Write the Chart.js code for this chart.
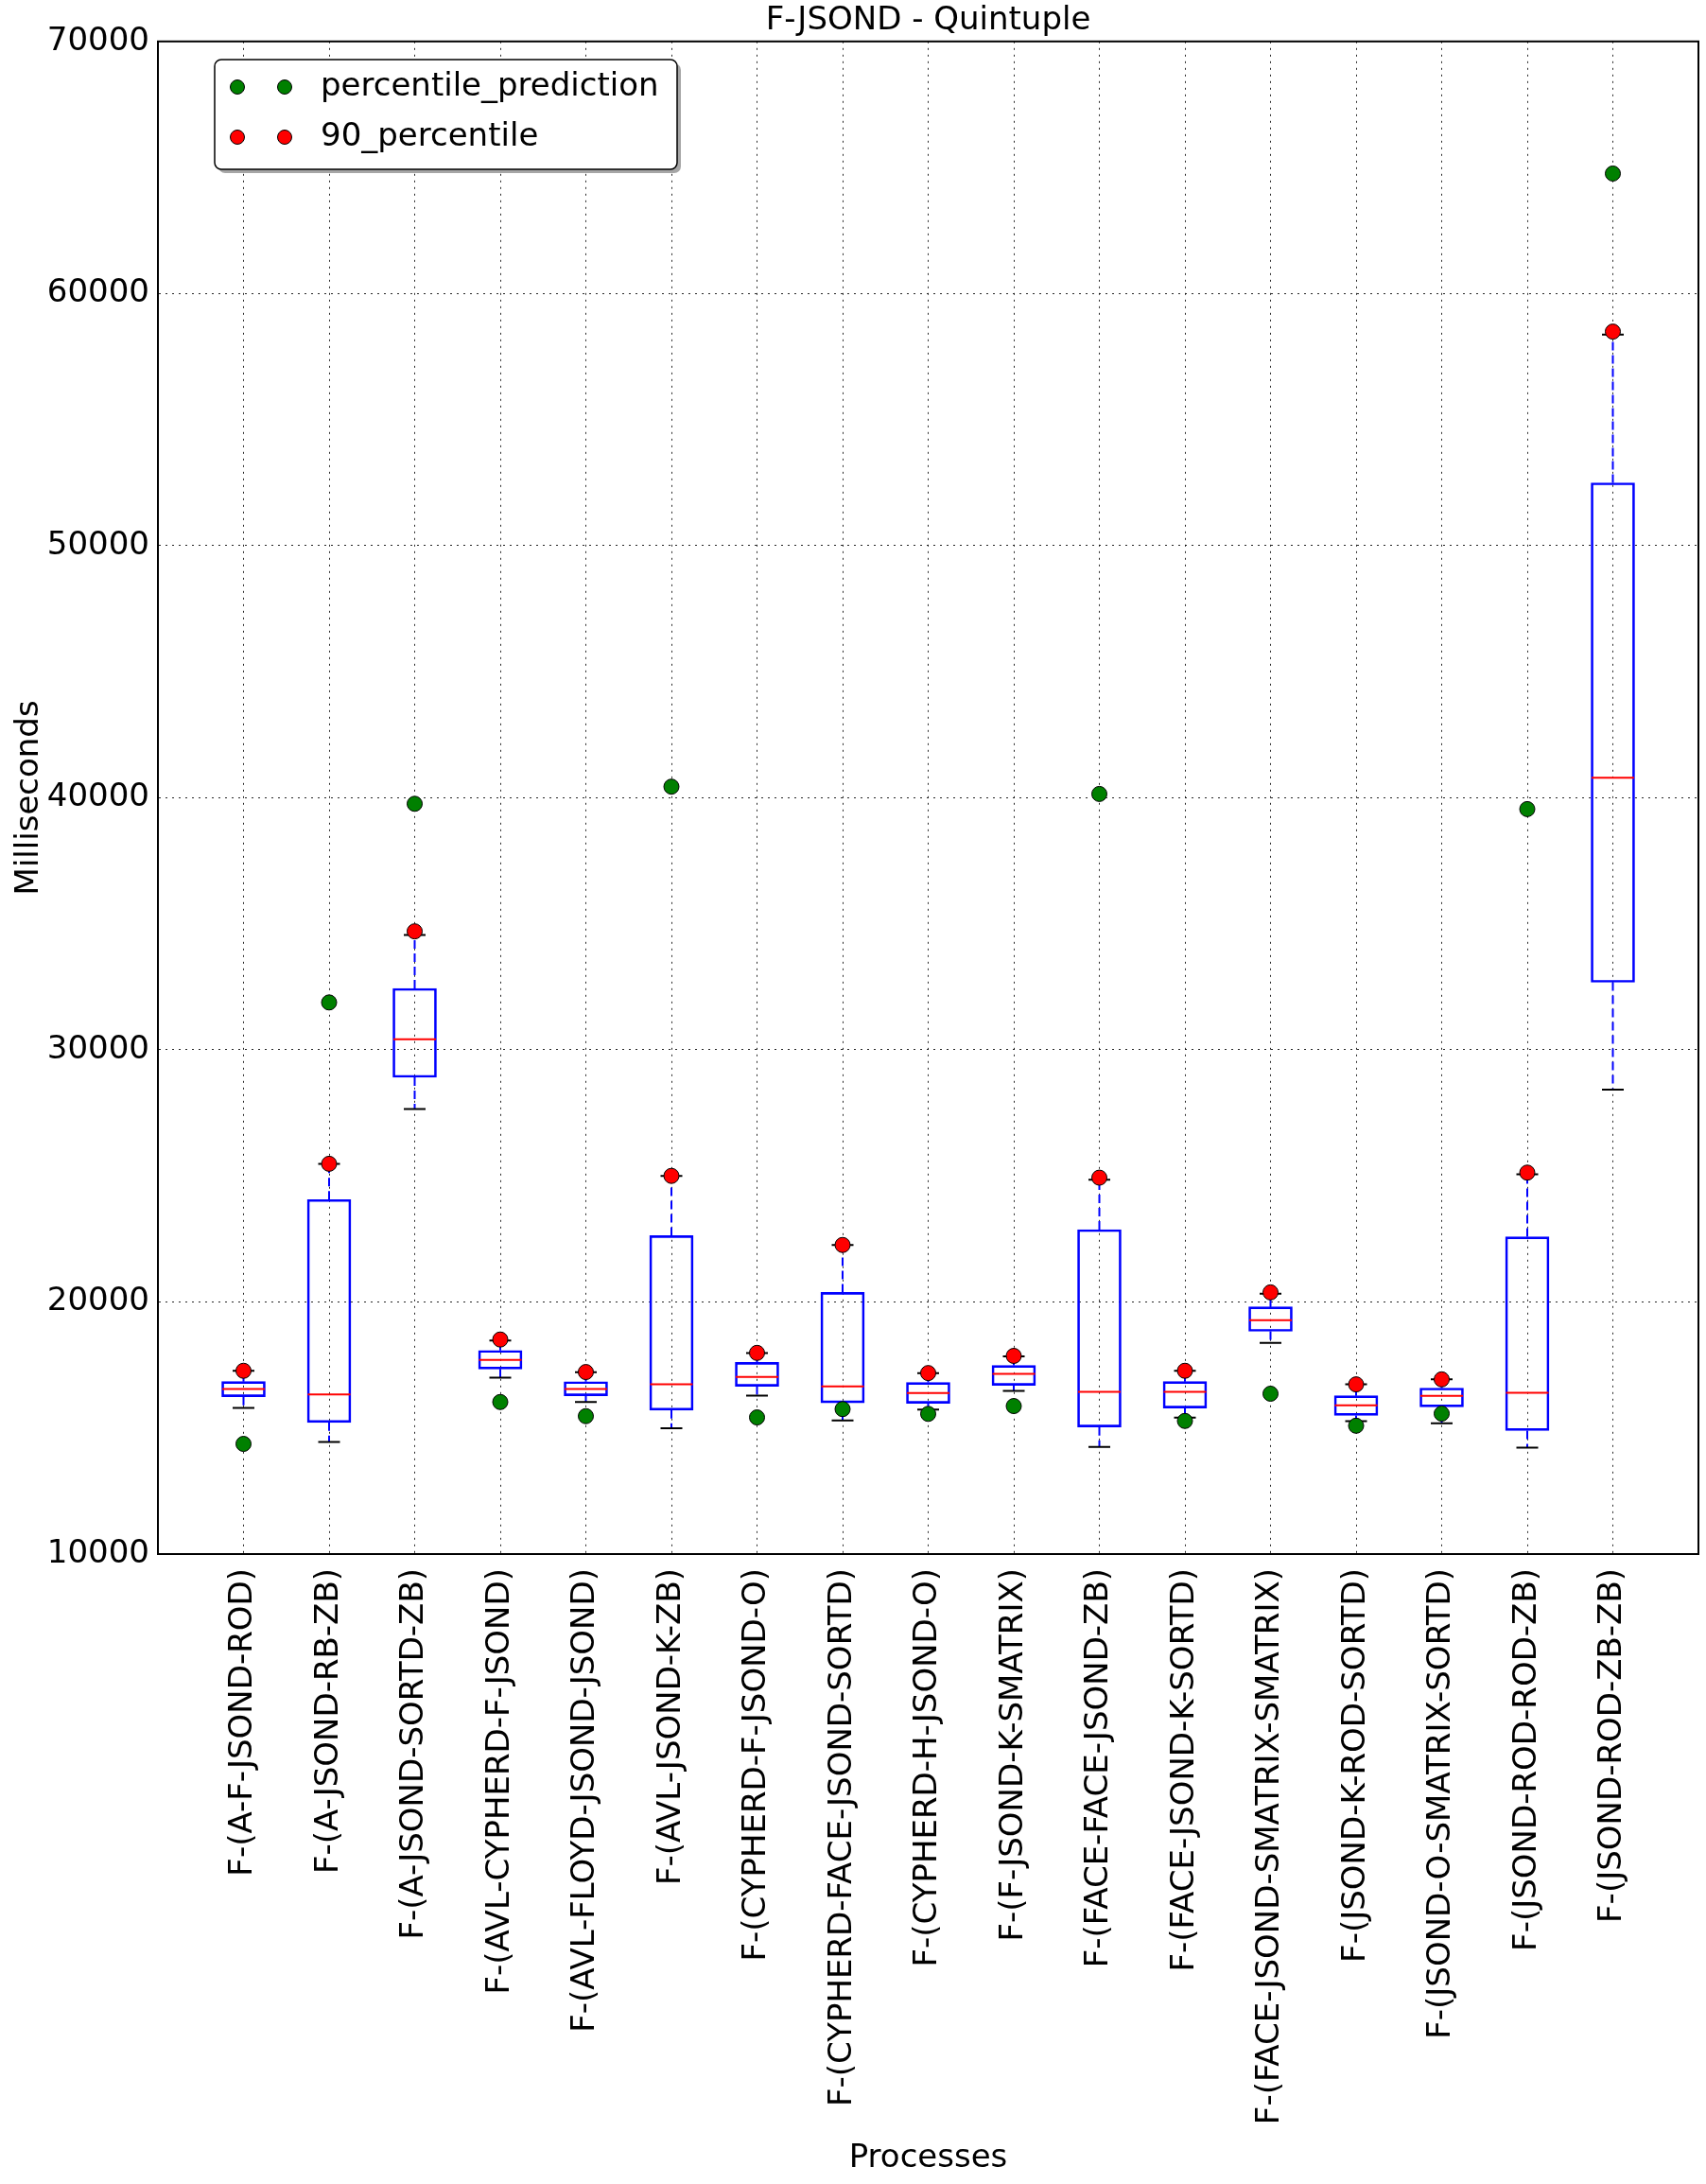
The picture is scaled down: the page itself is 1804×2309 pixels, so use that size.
<!DOCTYPE html>
<html>
<head>
<meta charset="utf-8">
<script src="https://cdn.jsdelivr.net/npm/chart.js@4.4.0/dist/chart.umd.min.js"></script>
<style>
  body { margin: 0; background: #fff; }
  canvas { display: block; }
</style>
</head>
<body>
<canvas id="boxChart" width="1804" height="2309"></canvas>
<script>
const processes = [
    'F-(A-F-JSOND-ROD)',
    'F-(A-JSOND-RB-ZB)',
    'F-(A-JSOND-SORTD-ZB)',
    'F-(AVL-CYPHERD-F-JSOND)',
    'F-(AVL-FLOYD-JSOND-JSOND)',
    'F-(AVL-JSOND-K-ZB)',
    'F-(CYPHERD-F-JSOND-O)',
    'F-(CYPHERD-FACE-JSOND-SORTD)',
    'F-(CYPHERD-H-JSOND-O)',
    'F-(F-JSOND-K-SMATRIX)',
    'F-(FACE-FACE-JSOND-ZB)',
    'F-(FACE-JSOND-K-SORTD)',
    'F-(FACE-JSOND-SMATRIX-SMATRIX)',
    'F-(JSOND-K-ROD-SORTD)',
    'F-(JSOND-O-SMATRIX-SORTD)',
    'F-(JSOND-ROD-ROD-ZB)',
    'F-(JSOND-ROD-ZB-ZB)'
];

const whiskerLow  = [15800, 14450, 27650, 17000, 16030, 14990, 16280, 15300, 15730, 16470, 14250, 15410, 18380, 15270, 15190, 14220, 28420];
const q1          = [16240, 15220, 28910, 17340, 16280, 15710, 16655, 16000, 15980, 16690, 15040, 15790, 18835, 15500, 15837, 14900, 32680];
const median      = [16550, 16330, 30420, 17700, 16550, 16730, 17030, 16654, 16390, 17143, 16430, 16430, 19275, 15904, 16278, 16400, 40790];
const q3          = [16840, 24060, 32435, 18077, 16837, 22628, 17600, 20376, 16805, 17481, 22870, 16842, 19805, 16278, 16586, 22584, 52490];
const whiskerHigh = [17270, 25480, 34560, 18470, 17215, 25000, 17975, 22256, 17180, 17840, 24850, 17268, 20330, 16734, 16934, 25060, 58370];

const percentilePrediction = [14370, 31880, 39760, 16030, 15470, 40440, 15420, 15750, 15560, 15870, 40150, 15280, 16360, 15090, 15570, 39550, 64760];
const percentile90         = [17270, 25480, 34700, 18510, 17220, 25000, 17980, 22260, 17180, 17860, 24930, 17270, 20380, 16730, 16930, 25130, 58490];

const yTicks = [10000, 20000, 30000, 40000, 50000, 60000, 70000];

const FONT = "'DejaVu Sans', sans-serif";
Chart.defaults.color = '#000';
Chart.defaults.font.family = FONT;

function pts(values){
    return values.map((v, i) => ({x: i + 1, y: v}));
}

// whisker segments, separated by gaps
const whiskerPts = [];
processes.forEach((p, i) => {
    whiskerPts.push({x: i + 1, y: q3[i]}, {x: i + 1, y: whiskerHigh[i]}, {x: i + 1, y: null});
    whiskerPts.push({x: i + 1, y: q1[i]}, {x: i + 1, y: whiskerLow[i]}, {x: i + 1, y: null});
});

const capPts = pts(whiskerHigh).concat(pts(whiskerLow));

const framePlugin = {
    id: 'frame',
    afterDatasetsDraw(chart){
        const {ctx, chartArea: a} = chart;
        ctx.save();
        ctx.strokeStyle = '#000';
        ctx.lineWidth = 2;
        ctx.strokeRect(a.left, a.top, a.right - a.left, a.bottom - a.top);
        ctx.restore();
    }
};

const legendPlugin = {
    id: 'boxLegend',
    afterDatasetsDraw(chart){
        const ctx = chart.ctx;
        const items = [chart.data.datasets[0], chart.data.datasets[1]];
        const bx = 227, by = 63, bw = 489, bh = 116;
        ctx.save();
        ctx.fillStyle = 'rgba(0,0,0,0.35)';
        ctx.beginPath();
        ctx.roundRect(bx + 4, by + 4, bw, bh, 7);
        ctx.fill();
        ctx.fillStyle = '#fff';
        ctx.strokeStyle = '#000';
        ctx.lineWidth = 1.5;
        ctx.beginPath();
        ctx.roundRect(bx, by, bw, bh, 7);
        ctx.fill();
        ctx.stroke();
        items.forEach((ds, k) => {
            const y = 92 + k * 53;
            [251, 301].forEach(x => {
                ctx.beginPath();
                ctx.arc(x, y, 7.5, 0, Math.PI * 2);
                ctx.fillStyle = ds.backgroundColor;
                ctx.fill();
                ctx.lineWidth = 1;
                ctx.strokeStyle = '#000';
                ctx.stroke();
            });
            ctx.fillStyle = '#000';
            ctx.font = '34px ' + FONT;
            ctx.textBaseline = 'middle';
            ctx.textAlign = 'left';
            ctx.fillText(ds.label, 339, y);
        });
        ctx.restore();
    }
};

new Chart(document.getElementById('boxChart').getContext('2d'), {
    type: 'bar',
    data: {
        datasets: [
            {
                type: 'scatter',
                label: 'percentile_prediction',
                data: pts(percentilePrediction),
                backgroundColor: '#008000',
                borderColor: '#000',
                borderWidth: 1,
                pointRadius: 8
            },
            {
                type: 'scatter',
                label: '90_percentile',
                data: pts(percentile90),
                backgroundColor: '#ff0000',
                borderColor: '#000',
                borderWidth: 1,
                pointRadius: 8
            },
            {
                type: 'scatter',
                label: 'medians',
                data: pts(median),
                pointStyle: 'line',
                pointRadius: 22.5,
                borderColor: '#ff0000',
                borderWidth: 2
            },
            {
                type: 'scatter',
                label: 'caps',
                data: capPts,
                pointStyle: 'line',
                pointRadius: 11.5,
                borderColor: '#000',
                borderWidth: 2
            },
            {
                type: 'line',
                label: 'whiskers',
                data: whiskerPts,
                borderColor: '#0000ff',
                borderWidth: 2,
                borderDash: [9, 5],
                pointRadius: 0,
                spanGaps: false,
                fill: false
            },
            {
                type: 'bar',
                label: 'boxes',
                data: q1.map((v, i) => ({x: i + 1, y: [v, q3[i]]})),
                backgroundColor: 'rgba(0,0,0,0)',
                borderColor: '#0000ff',
                borderWidth: 2,
                borderSkipped: false,
                barThickness: 46
            }
        ]
    },
    options: {
        responsive: false,
        devicePixelRatio: 1,
        animation: false,
        events: [],
        layout: {autoPadding: false, padding: {left: 0, right: 8, top: 0, bottom: 0}},
        plugins: {
            legend: {display: false},
            tooltip: {enabled: false},
            title: {
                display: true,
                text: 'F-JSOND - Quintuple',
                fullSize: false,
                font: {size: 34, weight: 'normal'},
                padding: {top: 2, bottom: 1}
            }
        },
        scales: {
            x: {
                type: 'linear',
                min: 0,
                max: 18,
                offset: false,
                grid: {offset: false, color: 'rgba(0,0,0,0.85)', lineWidth: 1, drawTicks: false},
                border: {color: '#000', width: 2, dash: [2, 5]},
                ticks: {
                    stepSize: 1,
                    autoSkip: false,
                    minRotation: 90,
                    maxRotation: 90,
                    padding: 15,
                    font: {size: 34},
                    callback: v => processes[v - 1] || ''
                },
                title: {
                    display: true,
                    text: 'Processes',
                    font: {size: 34},
                    padding: {top: 0, bottom: 6}
                },
                afterFit(scale){
                    scale.height = 666;
                    scale.paddingLeft = 0;
                    scale.paddingRight = 0;
                }
            },
            y: {
                min: yTicks[0],
                max: yTicks[yTicks.length - 1],
                grid: {color: 'rgba(0,0,0,0.85)', lineWidth: 1, drawTicks: false},
                border: {color: '#000', width: 2, dash: [2, 5]},
                ticks: {
                    stepSize: 10000,
                    padding: 9,
                    font: {size: 34},
                    callback: v => String(v)
                },
                title: {
                    display: true,
                    text: 'Milliseconds',
                    font: {size: 34},
                    padding: {top: 11, bottom: 0}
                },
                afterFit(scale){
                    scale.width = 167;
                    scale.paddingTop = 0;
                    scale.paddingBottom = 0;
                }
            }
        }
    },
    plugins: [framePlugin, legendPlugin]
});
</script>
</body>
</html>
